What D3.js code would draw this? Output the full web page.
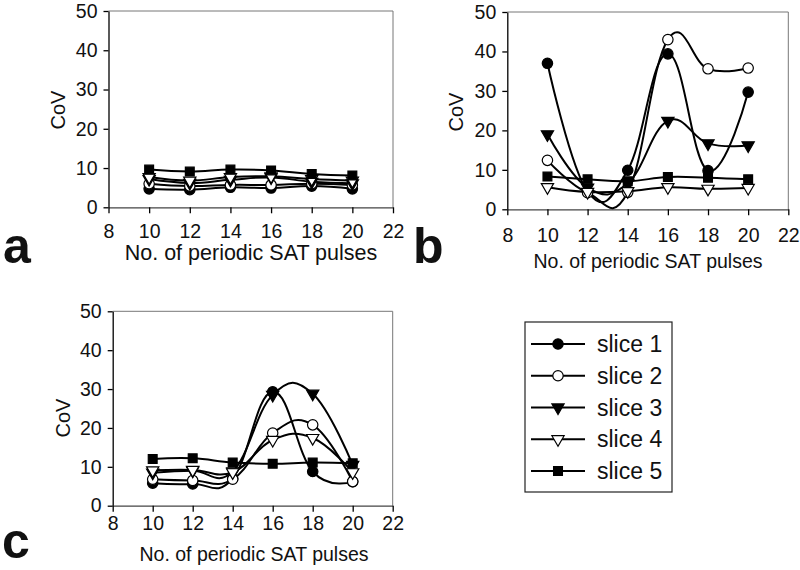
<!DOCTYPE html>
<html>
<head>
<meta charset="utf-8">
<script src="https://cdn.jsdelivr.net/npm/d3@7"></script>
<style>
  body { margin: 0; background: #fff; }
  svg text { font-family: "Liberation Sans", Arial, sans-serif; fill: #111; }
</style>
</head>
<body>
<div id="chart"></div>
<script>
// x values and tick labels
var pulses = [10, 12, 14, 16, 18, 20];
var xTicks = [8, 10, 12, 14, 16, 18, 20, 22];
var yTicks = [0, 10, 20, 30, 40, 50];
var sliceNames = ["slice 1", "slice 2", "slice 3", "slice 4", "slice 5"];

// CoV per slice, one row per slice
var panelA = [
  [4.7, 4.5, 5.1, 4.9, 5.4, 4.7],
  [6.0, 5.4, 5.7, 5.7, 6.0, 5.7],
  [7.2, 6.2, 7.0, 7.6, 6.5, 6.1],
  [7.7, 6.8, 7.7, 7.9, 7.2, 6.8],
  [9.6, 9.1, 9.6, 9.4, 8.5, 8.1]
];
var panelB = [
  [37.0, 4.5, 9.9, 39.4, 9.8, 29.7],
  [12.4, 4.2, 4.3, 43.0, 35.6, 35.8],
  [19.0, 5.5, 6.6, 22.4, 16.7, 16.2],
  [5.6, 4.4, 4.6, 5.6, 5.2, 5.4],
  [8.3, 7.6, 7.1, 8.2, 8.0, 7.6]
];
var panelC = [
  [5.8, 5.6, 7.0, 29.3, 8.8, 6.2],
  [6.8, 6.5, 6.8, 18.7, 20.8, 6.2],
  [8.5, 9.0, 8.8, 28.5, 28.8, 10.5],
  [9.1, 9.2, 8.6, 16.9, 17.4, 8.6],
  [12.0, 12.2, 11.1, 10.8, 11.1, 10.9]
];

var W = 800, H = 570;
var svg = d3.select("#chart").append("svg")
  .attr("width", W).attr("height", H);

// marker per slice
var markers = [
  {type: d3.symbolCircle, size: 85, fill: "#000", rot: 0},
  {type: d3.symbolCircle, size: 85, fill: "#fff", rot: 0},
  {type: d3.symbolTriangle, size: 65, fill: "#000", rot: 180},
  {type: d3.symbolTriangle, size: 65, fill: "#fff", rot: 180},
  {type: d3.symbolSquare, size: 78, fill: "#000", rot: 0}
];

function drawMarker(g, i, x, y) {
  var m = markers[i];
  g.append("path")
    .attr("d", d3.symbol().type(m.type).size(m.size)())
    .attr("transform", "translate(" + x + "," + y + ") rotate(" + m.rot + ")")
    .attr("fill", m.fill)
    .attr("stroke", "#000")
    .attr("stroke-width", 1.2);
}

var panels = [
  {data: panelA, left: 108.5, right: 393, top: 11, bottom: 207.3,
   tickBase: 238, titleX: 251, titleY: 260, titleSize: 21.5,
   covX: 58, covY: 110, letter: "a", lx: 3, ly: 263},
  {data: panelB, left: 507.3, right: 788.3, top: 12, bottom: 209.3,
   tickBase: 242, titleX: 648, titleY: 268, titleSize: 19.5,
   covX: 456, covY: 112, letter: "b", lx: 413, ly: 263},
  {data: panelC, left: 112.7, right: 392.7, top: 311.3, bottom: 505.7,
   tickBase: 530, titleX: 254, titleY: 561, titleSize: 19.5,
   covX: 63, covY: 418, letter: "c", lx: 2, ly: 558}
];

panels.forEach(function(p) {
  var x = d3.scaleLinear().domain([8, 22]).range([p.left, p.right]);
  var y = d3.scaleLinear().domain([0, 50]).range([p.bottom, p.top]);
  var g = svg.append("g");

  // plot area border (top, right)
  g.append("path")
    .attr("d", "M" + p.left + "," + p.top + "H" + p.right + "V" + p.bottom)
    .attr("fill", "none").attr("stroke", "#777").attr("stroke-width", 1);

  // y axis
  var ya = g.append("g")
    .attr("transform", "translate(" + p.left + ",0)")
    .call(d3.axisLeft(y).tickValues(yTicks).tickSize(5).tickSizeOuter(0).tickPadding(6));
  ya.select(".domain").attr("stroke", "#000").attr("stroke-width", 1.3);
  ya.selectAll(".tick line").attr("stroke", "#000").attr("stroke-width", 1.3);
  ya.selectAll(".tick text").style("font-size", "19.5px")
    .style("font-family", "'Liberation Sans', Arial, sans-serif").attr("fill", "#111");

  // x axis
  var xa = g.append("g")
    .attr("transform", "translate(0," + p.bottom + ")")
    .call(d3.axisBottom(x).tickValues(xTicks).tickSize(6).tickSizeOuter(0));
  xa.select(".domain").attr("stroke", "#444").attr("stroke-width", 1.2);
  xa.selectAll(".tick line").attr("stroke", "#000").attr("stroke-width", 1.3);
  xa.selectAll(".tick text").style("font-size", "19.5px")
    .style("font-family", "'Liberation Sans', Arial, sans-serif").attr("fill", "#111")
    .attr("dy", null).attr("y", p.tickBase - p.bottom);

  // axis titles
  g.append("text")
    .attr("x", p.titleX).attr("y", p.titleY)
    .attr("text-anchor", "middle")
    .style("font-size", p.titleSize + "px")
    .text("No. of periodic SAT pulses");
  g.append("text")
    .attr("transform", "translate(" + (p.covX + 7) + "," + p.covY + ") rotate(-90)")
    .attr("text-anchor", "middle")
    .style("font-size", "20px")
    .text("CoV");

  // panel letter
  g.append("text")
    .attr("x", p.lx).attr("y", p.ly)
    .style("font-size", "50px").style("font-weight", "bold")
    .text(p.letter);

  // series
  var line = d3.line()
    .x(function(d, i) { return x(pulses[i]); })
    .y(function(d) { return y(d); })
    .curve(d3.curveCardinal.tension(-0.25));

  p.data.forEach(function(series, s) {
    g.append("path")
      .datum(series)
      .attr("d", line)
      .attr("fill", "none")
      .attr("stroke", "#000")
      .attr("stroke-width", 2);
  });
  p.data.forEach(function(series, s) {
    series.forEach(function(v, i) {
      drawMarker(g, s, x(pulses[i]), y(v));
    });
  });
});

// legend
var leg = svg.append("g");
leg.append("rect")
  .attr("x", 525).attr("y", 322).attr("width", 147).attr("height", 170)
  .attr("fill", "#fff").attr("stroke", "#222").attr("stroke-width", 1.2);
var legY = d3.scalePoint().domain(sliceNames).range([344, 471]);
sliceNames.forEach(function(name, i) {
  var yy = legY(name);
  leg.append("line")
    .attr("x1", 531).attr("x2", 585).attr("y1", yy).attr("y2", yy)
    .attr("stroke", "#000").attr("stroke-width", 2);
  drawMarker(leg, i, 558, yy);
  leg.append("text")
    .attr("x", 597).attr("y", yy + 8)
    .style("font-size", "23px")
    .text(name);
});
</script>
</body>
</html>
